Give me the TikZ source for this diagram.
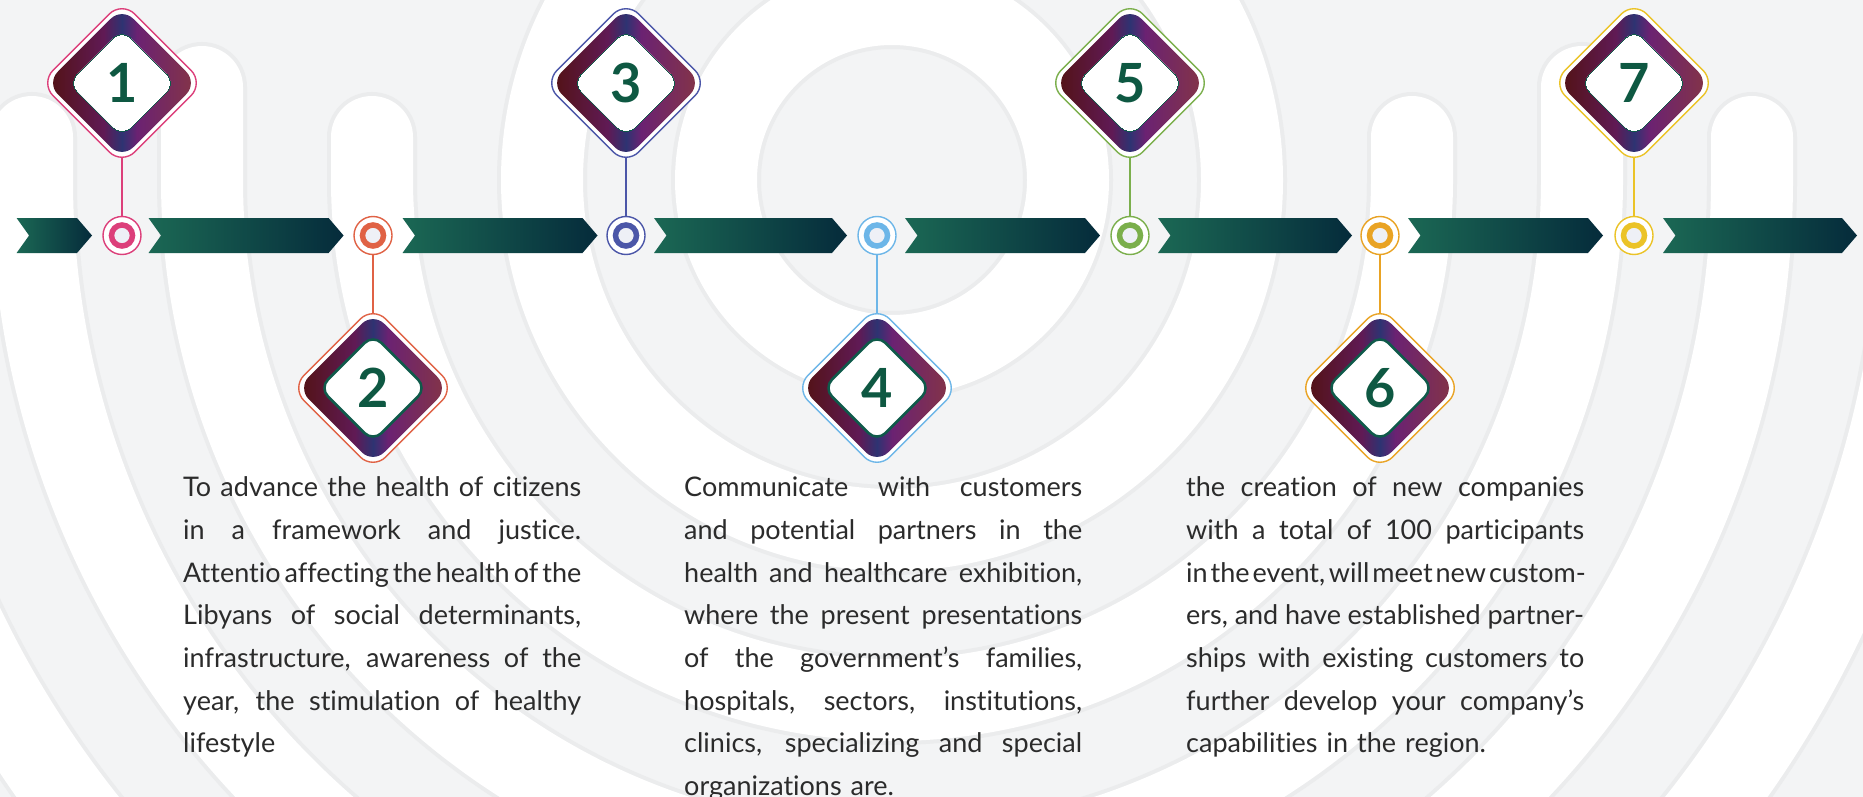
\documentclass[tikz,border=0pt]{standalone}
\usepackage{fontspec}
\setmainfont{Lato}[Ligatures=NoCommon]
\usetikzlibrary{shapes.geometric,calc}
\definecolor{bgc}{HTML}{F3F4F5}
\definecolor{shadc}{HTML}{EBECED}
\definecolor{chevL}{HTML}{1B6854}
\definecolor{chevR}{HTML}{052B3B}
\definecolor{bandA}{HTML}{521212}
\definecolor{bandB}{HTML}{601A55}
\definecolor{bandC}{HTML}{2E3372}
\definecolor{bandD}{HTML}{6B2272}
\definecolor{bandE}{HTML}{853545}
\definecolor{numg}{HTML}{0E5842}
\definecolor{rimc}{HTML}{0F5A4A}
\definecolor{txtc}{HTML}{2B2B2B}
\definecolor{holec}{HTML}{EEF0F6}
\definecolor{cA}{HTML}{DC3F7A}
\definecolor{cB}{HTML}{E06245}
\definecolor{cC}{HTML}{4B56A8}
\definecolor{cD}{HTML}{6DB6E8}
\definecolor{cE}{HTML}{7BAF4C}
\definecolor{cF}{HTML}{E9A324}
\definecolor{cG}{HTML}{EBC327}
\pgfdeclarehorizontalshading{band}{100bp}{color(0bp)=(bandA); color(25bp)=(bandA); color(44bp)=(bandB); color(50bp)=(bandC); color(55bp)=(bandD); color(75bp)=(bandE); color(100bp)=(bandE)}
\pgfdeclarelayer{back}
\pgfdeclarelayer{conn}
\pgfsetlayers{back,conn,main}
\newlength\bw
\setlength\bw{398pt}
\newcommand\tjl[1]{\hbox to \bw{\spaceskip=.26em plus 1fil minus .15em\relax\vrule height 20pt depth 0pt width 0pt#1}}
\newcommand\tll[1]{\hbox{\vrule height 20pt depth 0pt width 0pt#1}}
\tikzset{
  dout/.style={diamond, aspect=1, minimum size=164pt, inner sep=0pt, fill=white, line width=1.4pt, rounded corners=18pt},
  ringnode/.style={circle, minimum size=38pt, inner sep=0pt, fill=white, line width=1.4pt},
  numst/.style={font=\fontsize{54}{54}\selectfont\bfseries, text=numg, inner sep=0pt},
  chevst/.style={left color=chevL, right color=chevR},
  connst/.style={line width=1.8pt},
  tb/.style={anchor=north west, inner sep=0pt, text width=398pt, text=txtc, font=\fontsize{27}{42.67}\selectfont},
  bgring/.style={white, line width=82pt, line cap=round},
  bgshad/.style={shadc, line width=90pt, line cap=round}
}
\newcommand\mydiam[6]{% name, x, y, color, number, rim width
  \node[dout, draw=#4] (#1) at (#2,#3) {};
  \begin{scope}[shift={(#2,#3)}]
    \shade[shading=band, rounded corners=16pt] (0,-75.5) -- (75.5,0) -- (0,75.5) -- (-75.5,0) -- cycle;
    \filldraw[fill=white, draw=rimc, line width=#6, rounded corners=12pt] (0,-53.5) -- (53.5,0) -- (0,53.5) -- (-53.5,0) -- cycle;
  \end{scope}
  \node[numst] (#1n) at (#2,#3) {#5};
}
\newcommand\myring[4]{% name, x, color, ring color
  \node[ringnode, draw=#3] (#1) at (#2,235.5) {};
  \fill[holec] (#1.center) circle (8pt);
  \draw[#4, line width=5.5pt] (#1.center) circle (10.5pt);
}
\newcommand\chev[2]{\shade[chevst] (#1,218) -- (#2-15,218) -- (#2,235.5) -- (#2-15,253) -- (#1,253) -- (#1+12.5,235.5) -- cycle;}
\begin{document}
\begin{tikzpicture}[x=1pt,y=-1pt]
\useasboundingbox (0,0) rectangle (1863,797);
\begin{pgfonlayer}{back}
  \fill[bgc] (0,0) rectangle (1863,797);
  \begin{scope}
    \clip (0,0) rectangle (1863,797);
    \foreach \r in {176,350} {
      \draw[bgshad] (892,180) circle (\r);
      \draw[bgring] (892,180) circle (\r);
    }
    \foreach \r/\t in {520/137,690/87,860/137,1030/87} {
      \draw[bgshad] (892-\r,\t) -- (892-\r,180) arc[start angle=180, end angle=0, radius=\r] -- (892+\r,\t);
      \draw[bgring] (892-\r,\t) -- (892-\r,180) arc[start angle=180, end angle=0, radius=\r] -- (892+\r,\t);
    }
  \end{scope}
\end{pgfonlayer}
% chevrons
\chev{16.6}{92}
\chev{148.5}{343.6}
\chev{402.5}{597.5}
\chev{654}{847}
\chev{905}{1100}
\chev{1158}{1352}
\chev{1408}{1603}
\chev{1663}{1857}
% rings
\myring{c1}{122}{cA}{cA}
\myring{c2}{373}{cB}{cB}
\myring{c3}{626}{cC}{cC}
\myring{c4}{877}{cD}{cD}
\myring{c5}{1130}{cE}{cE}
\myring{c6}{1380}{cF}{cF}
\myring{c7}{1634}{cG}{cG}
% diamonds
\mydiam{d1}{122}{83}{cA}{1}{0pt}
\mydiam{d2}{373}{388}{cB}{2}{2.5pt}
\mydiam{d3}{626}{83}{cC}{3}{0pt}
\mydiam{d4}{877}{388}{cD}{4}{2.5pt}
\mydiam{d5}{1130}{83}{cE}{5}{0pt}
\mydiam{d6}{1380}{388}{cF}{6}{2.5pt}
\mydiam{d7}{1634}{83}{cG}{7}{0pt}
% connectors
\begin{pgfonlayer}{conn}
  \draw[connst, cA, shorten >=-8pt] (c1.north) -- (d1.south);
  \draw[connst, cB, shorten >=-8pt] (c2.south) -- (d2.north);
  \draw[connst, cC, shorten >=-8pt] (c3.north) -- (d3.south);
  \draw[connst, cD, shorten >=-8pt] (c4.south) -- (d4.north);
  \draw[connst, cE, shorten >=-8pt] (c5.north) -- (d5.south);
  \draw[connst, cF, shorten >=-8pt] (c6.south) -- (d6.north);
  \draw[connst, cG, shorten >=-8pt] (c7.north) -- (d7.south);
\end{pgfonlayer}
% texts
\node[tb] (t1) at (183,476.7) {\baselineskip=42.67pt
\tjl{To advance the health of citizens}
\tjl{in a framework and justice.}
\tjl{Attentio affecting the health of the}
\tjl{Libyans of social determinants,}
\tjl{infrastructure, awareness of the}
\tjl{year, the stimulation of healthy}
\tll{lifestyle}};
\node[tb] (t2) at (684,476.7) {\baselineskip=42.67pt
\tjl{Communicate with customers}
\tjl{and potential partners in the}
\tjl{health and healthcare exhibition,}
\tjl{where the present presentations}
\tjl{of the government's families,}
\tjl{hospitals, sectors, institutions,}
\tjl{clinics, specializing and special}
\tll{organizations are.}};
\node[tb] (t3) at (1186,476.7) {\baselineskip=42.67pt
\tjl{the creation of new companies}
\tjl{with a total of 100 participants}
\tjl{in the event, will meet new custom-}
\tjl{ers, and have established partner-}
\tjl{ships with existing customers to}
\tjl{further develop your company's}
\tll{capabilities in the region.}};
\end{tikzpicture}
\end{document}
